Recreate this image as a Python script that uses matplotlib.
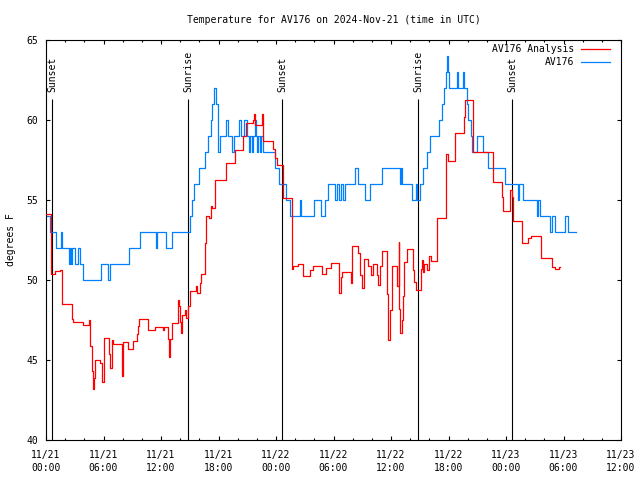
import matplotlib
matplotlib.use("Agg")
import matplotlib.pyplot as plt

# hours since 2024-11-21 00:00 UTC
obs_hours = [0, 0.42, 1.04, 1.57, 1.72, 2.40, 2.55, 2.66, 2.76, 3.03, 3.34, 3.55, 3.86,
             5.79, 6.47, 6.73, 8.71, 9.81, 11.43, 11.63, 12.57, 13.15, 15.03, 15.20,
             15.45, 15.97, 16.62, 16.90, 17.19, 17.33, 17.57, 17.74, 17.95, 18.16,
             18.78, 18.96, 19.38, 19.65, 20.14, 20.32, 20.66, 20.94, 21.18, 21.28,
             21.46, 21.56, 21.81, 21.91, 22.02, 22.12, 22.33, 22.43, 22.64, 23.86,
             24.35, 25.04, 25.50, 26.51, 26.65, 28.00, 28.68, 29.11, 29.43, 30.16,
             30.37, 30.58, 30.78, 30.99, 31.20, 32.24, 32.53, 33.29, 33.81, 35.03,
             36.94, 37.00, 37.12, 38.16, 38.61, 38.68, 39.03, 39.34, 39.73, 40.07,
             41.04, 41.29, 41.53, 41.71, 41.81, 41.92, 42.05, 42.86, 43.02, 43.48,
             43.62, 43.90, 44.07, 44.32, 44.42, 44.94, 45.63, 46.12, 47.90, 49.25,
             49.39, 49.81, 51.20, 51.34, 51.55, 52.59, 52.77, 53.11, 54.16, 54.50, 55.31]
obs_temp = [54, 53, 52, 53, 52, 51, 52, 51, 52, 51, 52, 51, 50,
            51, 50, 51, 52, 53, 52, 53, 52, 53, 54, 55,
            56, 57, 58, 59, 60, 61, 62, 61, 58, 59,
            60, 59, 58, 59, 60, 59, 60, 59, 58, 59,
            58, 59, 60, 59, 58, 59, 58, 59, 58, 57,
            56, 55, 54, 55, 54, 55, 54, 55, 56, 55,
            56, 55, 56, 55, 56, 57, 56, 55, 56, 57,
            56, 57, 56, 55, 56, 55, 56, 57, 58, 59,
            60, 61, 62, 63, 64, 63, 62, 63, 62, 63,
            62, 61, 60, 59, 58, 59, 58, 57, 56, 55,
            56, 55, 54, 55, 54, 53, 54, 53, 54, 53, 53]

ana_hours = [0, 0.57, 0.94, 1.46, 1.64, 1.72, 2.68, 2.85, 3.89, 4.52, 4.62, 4.80, 4.90,
             5.04, 5.14, 5.63, 5.85, 6.08, 6.62, 6.73, 6.90, 6.99, 7.95, 8.07, 8.55,
             9.05, 9.50, 9.63, 9.74, 10.64, 11.37, 12.24, 12.31, 12.70, 12.80, 12.94,
             13.12, 13.74, 13.85, 13.95, 14.06, 14.16, 14.50, 14.66, 14.85, 15.03,
             15.60, 15.70, 15.80, 16.07, 16.17, 16.62, 16.70, 17.00, 17.19, 17.29,
             17.64, 18.75, 19.72, 20.59, 20.84, 21.63, 21.74, 21.84, 22.51, 22.65,
             23.66, 23.86, 24.14, 24.70, 24.76, 25.64, 25.81, 26.33, 26.79, 27.55,
             27.89, 28.77, 29.19, 29.71, 30.61, 30.75, 30.89, 31.80, 31.90, 31.96,
             32.59, 32.77, 32.94, 33.21, 33.63, 33.91, 34.15, 34.57, 34.64, 34.85,
             35.09, 35.62, 35.69, 35.90, 36.07, 36.66, 36.80, 36.86, 36.94, 37.12,
             37.28, 37.40, 37.64, 38.33, 38.45, 38.61, 39.10, 39.20, 39.34, 39.44,
             39.79, 39.95, 40.15, 40.77, 41.71, 41.98, 42.68, 43.62, 43.72, 44.59,
             46.68, 47.62, 47.72, 48.42, 48.60, 48.70, 49.70, 50.33, 50.61, 51.63,
             52.77, 53.11, 53.53, 53.64]
ana_temp = [54.1, 50.4, 50.55, 50.6, 49.6, 48.5, 47.55, 47.4, 47.2, 47.5, 45.9, 44.3, 43.2,
            43.9, 45.0, 44.8, 43.6, 46.4, 45.4, 44.5, 46.25, 46.0, 44.0, 46.1, 45.7,
            46.2, 46.6, 47.1, 47.55, 46.9, 47.05, 46.85, 47.05, 46.3, 45.2, 46.3,
            47.3, 48.75, 48.4, 47.4, 46.7, 47.8, 48.1, 47.6, 48.4, 49.3,
            49.4, 49.6, 49.2, 49.8, 50.4, 52.3, 54.0, 53.9, 54.6, 54.5,
            56.25, 57.3, 58.1, 59.0, 59.8, 60.0, 60.35, 59.7, 60.35, 58.7,
            58.2, 57.6, 57.2, 56.3, 55.15, 50.7, 50.85, 51.0, 50.25, 50.63,
            50.85, 50.35, 50.75, 51.04, 49.2, 50.2, 50.5, 49.8, 51.0, 52.14,
            51.67, 50.3, 49.5, 51.3, 50.85, 50.3, 51.0, 50.3, 49.7, 50.85,
            51.8, 49.1, 46.25, 48.1, 50.85, 49.6, 52.4, 48.2, 46.67, 47.5,
            49.0, 51.1, 51.92, 50.6, 49.9, 49.4, 50.7, 51.25, 50.5, 51.0,
            50.6, 51.5, 51.2, 53.9, 57.9, 57.45, 59.17, 60.2, 61.25, 58.0,
            56.1, 55.2, 54.33, 55.6, 55.2, 53.7, 52.3, 52.6, 52.75, 51.35,
            50.83, 50.69, 50.8, 50.8]

sun_hours = [0.63, 14.82, 24.63, 38.82, 48.63]
sun_names = ['Sunset', 'Sunrise', 'Sunset', 'Sunrise', 'Sunset']

tick_hours = [0, 6, 12, 18, 24, 30, 36, 42, 48, 54, 60]
tick_labels = ['11/21\n00:00', '11/21\n06:00', '11/21\n12:00', '11/21\n18:00',
               '11/22\n00:00', '11/22\n06:00', '11/22\n12:00', '11/22\n18:00',
               '11/23\n00:00', '11/23\n06:00', '11/23\n12:00']

RED = '#ff0000'
BLUE = '#0080ff'
plt.rcParams['font.family'] = ['DejaVu Sans Mono']
plt.rcParams['font.size'] = 7

fig = plt.figure(figsize=(6.4, 4.8), dpi=100)
ax = fig.add_axes([46 / 640, 40 / 480, 575 / 640, 400 / 480])

for h, name in zip(sun_hours, sun_names):
    ax.vlines(h, 40, 61.3, color='black', lw=0.8, zorder=1)
    ax.text(h, 61.75, name, rotation=90, ha='center', va='bottom')

ax.plot(ana_hours, ana_temp, drawstyle='steps-post', color=RED, lw=0.9, zorder=3)
ax.plot(obs_hours, obs_temp, drawstyle='steps-post', color=BLUE, lw=0.9, zorder=2)

# legend gnuplot style: text right aligned, sample line on the right
ax.text(0.918, 0.977, 'AV176 Analysis', transform=ax.transAxes, ha='right', va='center')
ax.plot([0.930, 0.981], [0.977, 0.977], transform=ax.transAxes, color=RED, lw=0.9)
ax.text(0.918, 0.944, 'AV176', transform=ax.transAxes, ha='right', va='center')
ax.plot([0.930, 0.981], [0.944, 0.944], transform=ax.transAxes, color=BLUE, lw=0.9)

ax.set_xlim(0, 60)
ax.set_ylim(40, 65)
ax.set_xticks(tick_hours)
ax.set_xticklabels(tick_labels, linespacing=1.45)
ax.set_xticks(range(0, 61, 2), minor=True)
ax.set_yticks(range(40, 66, 5))
ax.tick_params(which='both', direction='in', top=True, right=True, width=0.8)
ax.tick_params(which='major', length=3)
ax.tick_params(which='minor', length=1.7)
ax.tick_params(axis='x', which='major', pad=7)
ax.tick_params(axis='y', which='major', pad=5.5)
for sp in ax.spines.values():
    sp.set_linewidth(0.8)

fig.text(0.521, 1 - 20 / 480, 'Temperature for AV176 on 2024-Nov-21 (time in UTC)',
         ha='center', va='center')
fig.text(11 / 640, 0.5, 'degrees F', rotation=90, ha='center', va='center')

fig.savefig('out.png', dpi=100)
